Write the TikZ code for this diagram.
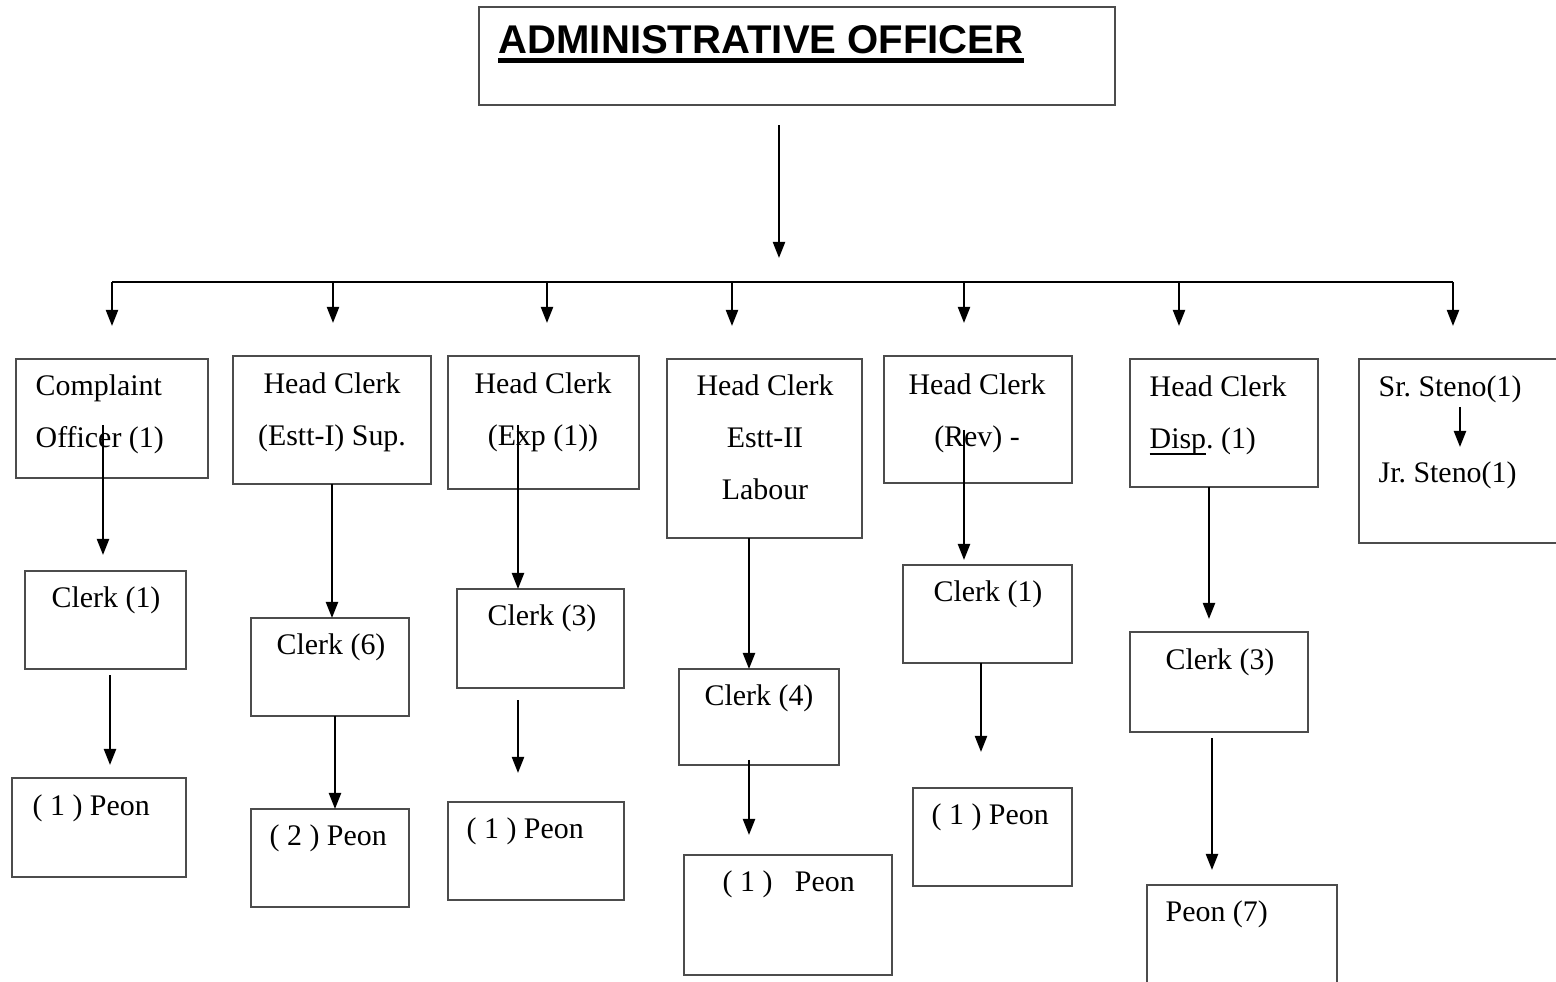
\documentclass[tikz,border=0pt]{standalone}
\usepackage{fontspec}
\setmainfont{Liberation Serif}
\newfontfamily\titlefam{Liberation Sans}
\usetikzlibrary{arrows.meta,fit}
\frenchspacing

\newcommand{\textecase}{\fontsize{8.5pt}{14.8pt}\selectfont}
\newcommand{\textetitre}{\titlefam\bfseries\fontsize{11.4pt}{13pt}\selectfont}

\tikzset{
  boite/.style={draw=black!70, line width=0.45pt, inner sep=0pt, outer sep=0pt},
  texte/.style={inner sep=0pt, font=\textecase},
  fleche/.style={line width=0.6pt, -{Triangle[length=0.16cm,width=0.12cm]}},
}

\begin{document}
\begin{tikzpicture}[x=0.01cm, y=-0.01cm]
% cadre : 1556 x 982 (une unite = 0.1 mm)
\useasboundingbox (0,0) rectangle (1556,982);
\clip (0,0) rectangle (1556,982);

% Chef
\node[boite, fit={(479,7) (1115,105)}] (ao) {};
\node[inner sep=0pt, anchor=base west, font=\textetitre] (titre) at (498,54) {ADMINISTRATIVE OFFICER};
\draw[line width=1.2pt] ([yshift=-0.065cm]titre.base west) -- ([yshift=-0.065cm]titre.base east);

% barre horizontale
\coordinate (bus-g) at (112,282);
\coordinate (bus-d) at (1453,282);
\draw[line width=0.6pt] (bus-g) -- (bus-d);
\coordinate (ao-b) at (779,105);
\draw[fleche, shorten <=0.2cm, shorten >=0.24cm] (ao-b) -- (ao-b |- bus-g);

% premiere rangee (base = derniere ligne)
\node[boite, fit={(16,359) (208,478)}] (co) {};
\node[boite, fit={(233,356) (431,484)}] (hc1) {};
\node[boite, fit={(448,356) (639,489)}] (hc2) {};
\node[boite, fit={(667,359) (862,538)}] (hc3) {};
\node[boite, fit={(884,356) (1072,483)}] (hc4) {};
\node[boite, fit={(1130,359) (1318,487)}] (hc5) {};
\node[boite, fit={(1359,359) (1570,543)}] (st) {};

\node[texte, anchor=base west, align=left] (t-co) at (35,448) {Complaint\\Officer (1)};
\node[texte, anchor=base, align=center] (t-hc1) at (332,446) {Head Clerk\\(Estt-I) Sup.};
\node[texte, anchor=base, align=center] (t-hc2) at (543,446) {Head Clerk\\(Exp (1))};
\node[texte, anchor=base, align=center] (t-hc3) at (765,500) {Head Clerk\\Estt-II\\Labour};
\node[texte, anchor=base, align=center] (t-hc4) at (977,447) {Head Clerk\\(Rev) -};
\node[texte, anchor=base west, align=left] (t-hc5) at (1149,449) {Head Clerk\\\underline{\smash{Disp}}. (1)};
\node[texte, anchor=base west] (t-sr) at (1378,397) {Sr. Steno(1)};
\node[texte, anchor=base west] (t-jr) at (1378,483) {Jr. Steno(1)};
\coordinate (st-a) at (1460,407);
\draw[fleche] (st-a) -- ++(0,40);

\foreach \n/\x in {co/112, hc1/333, hc2/547, hc3/732, hc4/964, hc5/1179, st/1453}
  \draw[fleche, shorten >=0.33cm] (bus-g -| \x,0) -- (\x,0 |- \n.north);

% deuxieme rangee
\node[boite, fit={(25,571) (186,669)}] (cl1) {};
\node[boite, fit={(251,618) (409,716)}] (cl2) {};
\node[boite, fit={(457,589) (624,688)}] (cl3) {};
\node[boite, fit={(679,669) (839,765)}] (cl4) {};
\node[boite, fit={(903,565) (1072,663)}] (cl5) {};
\node[boite, fit={(1130,632) (1308,732)}] (cl6) {};

\node[texte, anchor=base west] (t-cl1) at (51,608) {Clerk (1)};
\node[texte, anchor=base west] (t-cl2) at (276,655) {Clerk (6)};
\node[texte, anchor=base west] (t-cl3) at (487,626) {Clerk (3)};
\node[texte, anchor=base west] (t-cl4) at (704,706) {Clerk (4)};
\node[texte, anchor=base west] (t-cl5) at (933,602) {Clerk (1)};
\node[texte, anchor=base west] (t-cl6) at (1165,670) {Clerk (3)};

\coordinate (co-a) at (103,425);
\coordinate (hc2-a) at (518,425);
\coordinate (hc3-a) at (749,538);
\coordinate (hc4-a) at (964,430);
\coordinate (hc5-a) at (1209,487);
\draw[fleche, shorten >=0.16cm] (co-a) -- (co-a |- cl1.north);
\draw[fleche] (hc1.south) -- (hc1.south |- cl2.north);
\draw[fleche] (hc2-a) -- (hc2-a |- cl3.north);
\draw[fleche] (hc3-a) -- (hc3-a |- cl4.north);
\draw[fleche, shorten >=0.05cm] (hc4-a) -- (hc4-a |- cl5.north);
\draw[fleche, shorten >=0.13cm] (hc5-a) -- (hc5-a |- cl6.north);

% troisieme rangee
\node[boite, fit={(12,778) (186,877)}] (p1) {};
\node[boite, fit={(251,809) (409,907)}] (p2) {};
\node[boite, fit={(448,802) (624,900)}] (p3) {};
\node[boite, fit={(684,855) (892,975)}] (p4) {};
\node[boite, fit={(913,788) (1072,886)}] (p5) {};
\node[boite, fit={(1147,885) (1337,995)}] (p6) {};

\node[texte, anchor=base west] (t-p1) at (32,816) {( 1 ) Peon};
\node[texte, anchor=base west] (t-p2) at (269,846) {( 2 ) Peon};
\node[texte, anchor=base west] (t-p3) at (466,839) {( 1 ) Peon};
\node[texte, anchor=base west] (t-p4) at (722,892) {( 1 )~~~Peon};
\node[texte, anchor=base west] (t-p5) at (931,825) {( 1 ) Peon};
\node[texte, anchor=base west] (t-p6) at (1165,922) {Peon (7)};

\coordinate (cl1-b) at (110,669);
\coordinate (cl2-b) at (335,716);
\coordinate (cl3-b) at (518,688);
\coordinate (cl4-b) at (749,760);
\coordinate (cl5-b) at (981,663);
\coordinate (cl6-b) at (1212,732);
\draw[fleche, shorten <=0.06cm, shorten >=0.13cm] (cl1-b) -- (cl1-b |- p1.north);
\draw[fleche] (cl2-b) -- (cl2-b |- p2.north);
\draw[fleche, shorten <=0.12cm, shorten >=0.29cm] (cl3-b) -- (cl3-b |- p3.north);
\draw[fleche, shorten >=0.2cm] (cl4-b) -- (cl4-b |- p4.north);
\draw[fleche, shorten >=0.36cm] (cl5-b) -- (cl5-b |- p5.north);
\draw[fleche, shorten <=0.06cm, shorten >=0.15cm] (cl6-b) -- (cl6-b |- p6.north);
\end{tikzpicture}
\end{document}
